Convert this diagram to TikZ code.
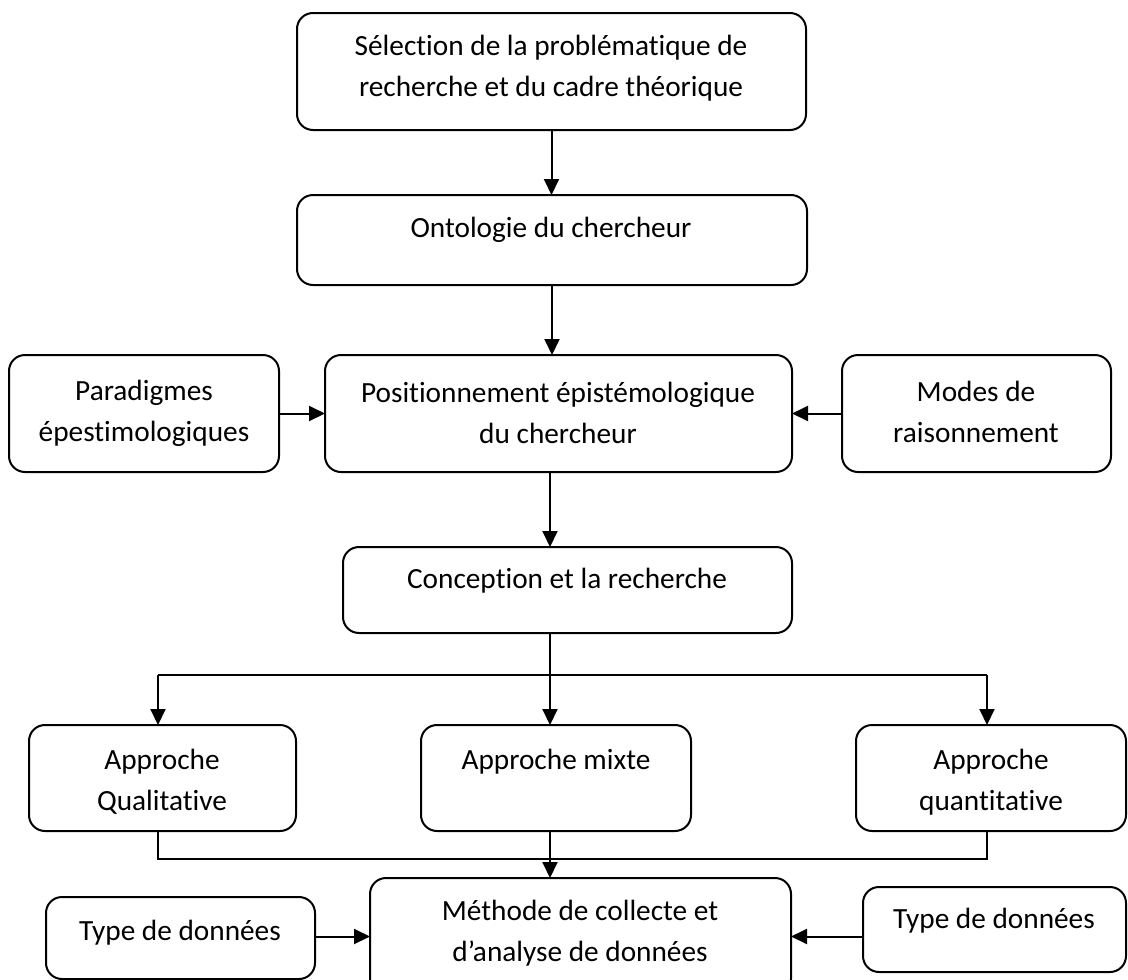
\documentclass[tikz,border=0pt]{standalone}
\usepackage{fontspec}
\setmainfont{Carlito}[Ligatures=NoCommon]
\usetikzlibrary{arrows.meta,calc}

\tikzset{
  box/.style={draw=black, line width=2pt, rounded corners=16pt, inner sep=0pt, outer sep=0pt, fill=white},
  lbl/.style={align=center, inner sep=0pt, font=\fontsize{29.3}{41}\selectfont},
  link/.style={draw=black, line width=2pt},
  arr/.style={link, -{Triangle[length=16pt,width=15pt]}},
}

\begin{document}
\begin{tikzpicture}[x=1pt,y=-1pt]
\useasboundingbox (0,0) rectangle (1128,980);
\fill[white] (0,0) rectangle (1128,980);

% boxes
\node[box, minimum width=509pt, minimum height=117pt] (B1) at (551.5,71.5) {};
\node[box, minimum width=510pt, minimum height=90pt]  (B2) at (552,240) {};
\node[box, minimum width=270pt, minimum height=117pt] (L3) at (144,413.5) {};
\node[box, minimum width=467pt, minimum height=117pt] (C3) at (558.5,413.5) {};
\node[box, minimum width=269pt, minimum height=117pt] (R3) at (976.5,413.5) {};
\node[box, minimum width=449pt, minimum height=86pt]  (B4) at (567.5,590) {};
\node[box, minimum width=267pt, minimum height=106pt] (A1) at (162.5,778) {};
\node[box, minimum width=270pt, minimum height=106pt] (A2) at (556,778) {};
\node[box, minimum width=270pt, minimum height=106pt] (A3) at (991,778) {};
\node[box, minimum width=269pt, minimum height=82pt]  (T1) at (180.5,938) {};
\node[box, minimum width=421pt, minimum height=117pt] (M6) at (580.5,936.5) {};
\node[box, minimum width=263pt, minimum height=85pt]  (T2) at (994.5,929.5) {};

% texts
\node[lbl] (tB1) at (551,68) {Sélection de la problématique de\\recherche et du cadre théorique};
\node[lbl] (tB2) at (551,230) {Ontologie du chercheur};
\node[lbl] (tL3) at (144,413) {Paradigmes\\épestimologiques};
\node[lbl] (tC3) at (558,413) {Positionnement épistémologique\\du chercheur};
\node[lbl] (tR3) at (976,412) {Modes de\\raisonnement};
\node[lbl] (tB4) at (567,581) {Conception et la recherche};
\node[lbl] (tA1) at (162,782) {Approche\\Qualitative};
\node[lbl] (tA2) at (556,762) {Approche mixte};
\node[lbl] (tA3) at (991,782) {Approche\\quantitative};
\node[lbl] (tT1) at (180,933) {Type de données};
\node[lbl] (tM6) at (580,933) {Méthode de collecte et\\d’analyse de données};
\node[lbl] (tT2) at (994,921) {Type de données};

% guide coordinates for the connector grid
\coordinate (axis) at (550,0);
\coordinate (jl) at (158,675);
\coordinate (jm) at (550,675);
\coordinate (jr) at (987,675);
\coordinate (ml) at (158,859);
\coordinate (mm) at (550,859);
\coordinate (mr) at (987,859);

% connectors
\draw[arr] (B1.south) -- (B1.south |- B2.north);
\draw[arr] (B2.south) -- (B2.south |- C3.north);
\draw[arr] (L3.east) -- (C3.west);
\draw[arr] (R3.west) -- (C3.east);
\draw[arr] (C3.south -| axis) -- (B4.north -| axis);
\draw[link] (B4.south -| axis) -- (jm);
\draw[link] (jl) -- (jr);
\draw[arr] (jl) -- (jl |- A1.north);
\draw[arr] (jm) -- (jm |- A2.north);
\draw[arr] (jr) -- (jr |- A3.north);
\draw[link] (ml |- A1.south) -- (ml) -- (mr) -- (mr |- A3.south);
\draw[arr] (mm |- A2.south) -- (mm |- M6.north);
\draw[arr] (T1.east |- M6.west) -- (M6.west);
\draw[arr] (T2.west |- M6.east) -- (M6.east);
\end{tikzpicture}
\end{document}
